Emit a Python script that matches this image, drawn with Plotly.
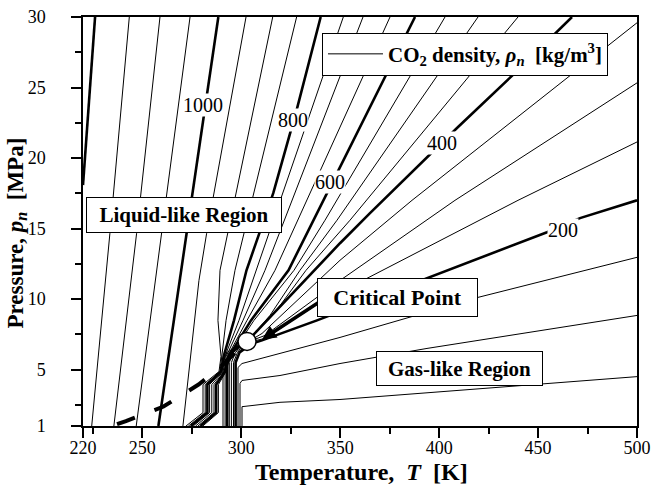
import plotly.graph_objects as go

FONT = "Liberation Serif, Times New Roman, serif"

# ---- traced CO2 density isolines: temperature T [K] vs pressure p [MPa] ----
T_1200 = [226.1, 220.0]
P_1200 = [30.0, 18.08]
T_1150 = [243.4, 233.6, 224.4]
P_1150 = [30.0, 14.67, 1.0]
T_1100 = [258.9, 247.1, 235.6]
P_1100 = [30.0, 14.67, 1.0]
T_1050 = [274.1, 259.8, 246.9]
P_1050 = [30.0, 14.67, 1.0]
T_1000 = [288.4, 272.4, 258.1]
P_1000 = [30.0, 14.67, 1.0]
T_950 = [302.4, 282.5, 278.6, 270.5]
P_950 = [30.0, 14.67, 11.32, 1.0]
T_900 = [315.88, 289.24, 288.2, 289.75, 288.74, 280.65, 280.65, 272.06]
P_900 = [30.0, 12.04, 8.49, 5.93, 4.86, 3.94, 1.95, 1.0]
T_850 = [327.96, 296.82, 292.3, 290.41, 289.24, 281.76, 281.76, 273.27]
P_850 = [30.0, 12.04, 8.49, 5.93, 4.86, 3.94, 1.95, 1.0]
T_800 = [340.13, 327.99, 316.16, 302.63, 296.32, 291.06, 289.75, 282.87, 282.87, 274.48]
P_800 = [30.0, 23.41, 17.51, 12.04, 8.49, 5.93, 4.86, 3.94, 1.95, 1.0]
T_750 = [351.56, 307.44, 298.84, 291.72, 290.25, 283.98, 283.98, 275.70]
P_750 = [30.0, 12.04, 8.49, 5.93, 4.86, 3.94, 1.95, 1.0]
T_700 = [361.51, 311.98, 300.87, 292.38, 290.76, 285.09, 285.09, 276.91]
P_700 = [30.0, 12.04, 8.49, 5.93, 4.86, 3.94, 1.95, 1.0]
T_650 = [375.16, 317.04, 302.89, 293.03, 291.26, 286.21, 286.21, 278.12]
P_650 = [30.0, 12.04, 8.49, 5.93, 4.86, 3.94, 1.95, 1.0]
T_600 = [387.80, 349.89, 336.40, 323.86, 304.91, 293.69, 291.77, 287.32, 287.32, 279.34]
P_600 = [30.0, 19.35, 15.59, 12.04, 8.49, 5.93, 4.86, 3.94, 1.95, 1.0]
T_550 = [402.96, 347.87, 342.31, 326.64, 306.42, 294.35, 292.28, 288.43, 288.43, 280.55]
P_550 = [30.0, 17.0, 15.59, 12.04, 8.49, 5.93, 4.86, 3.94, 1.95, 1.0]
T_500 = [419.64, 355.45, 348.37, 329.67, 314.51, 304.40, 292.78, 290.76, 290.76]
P_500 = [30.0, 17.0, 15.59, 12.04, 8.84, 7.21, 6.22, 5.50, 1.0]
T_450 = [439.85, 363.03, 354.94, 332.71, 317.04, 305.41, 293.84, 291.82, 291.82]
P_450 = [30.0, 17.0, 15.59, 12.04, 9.06, 7.35, 6.22, 5.50, 1.0]
T_400 = [467.15, 437.33, 409.02, 393.86, 365.05, 349.89, 329.67, 310.47, 304.40, 294.90, 292.88, 292.88]
P_400 = [30.0, 25.90, 22.13, 20.07, 16.09, 13.96, 10.97, 8.13, 7.21, 6.22, 5.50, 1.0]
T_350 = [500.0, 386.28, 349.89, 310.47, 305.41, 295.96, 293.94, 293.94]
P_350 = [29.59, 17.0, 12.75, 7.56, 7.14, 6.22, 5.50, 1.0]
T_300 = [500.0, 408.01, 349.89, 311.98, 305.41, 297.03, 295.00, 295.00]
P_300 = [25.33, 17.0, 11.32, 7.42, 7.07, 6.22, 5.50, 1.0]
T_250 = [500.0, 439.85, 363.54, 338.27, 311.98, 305.41, 298.09, 296.06, 296.06]
P_250 = [21.14, 17.0, 11.47, 9.62, 7.21, 7.0, 6.22, 5.50, 1.0]
T_200 = [500.0, 471.19, 454.51, 393.86, 338.27, 310.47, 305.41, 299.15, 297.13, 297.13]
P_200 = [17.0, 15.74, 14.74, 11.47, 8.49, 7.07, 6.85, 6.22, 5.50, 1.0]
T_150 = [500.0, 419.64, 349.89, 319.56, 300.36, 298.34, 298.34]
P_150 = [12.96, 10.12, 7.28, 6.14, 5.43, 5.15, 1.0]
T_100 = [500.0, 393.86, 349.89, 319.56, 300.36, 299.35, 299.35]
P_100 = [8.84, 6.50, 5.43, 4.58, 4.23, 4.02, 1.0]
T_50 = [500.0, 452.48, 349.89, 319.56, 300.36, 300.36]
P_50 = [4.50, 4.0, 2.88, 2.68, 2.37, 1.0]

isolines = [
    (1200, T_1200, P_1200), (1150, T_1150, P_1150), (1100, T_1100, P_1100),
    (1050, T_1050, P_1050), (1000, T_1000, P_1000), (950, T_950, P_950),
    (900, T_900, P_900), (850, T_850, P_850), (800, T_800, P_800),
    (750, T_750, P_750), (700, T_700, P_700), (650, T_650, P_650),
    (600, T_600, P_600), (550, T_550, P_550), (500, T_500, P_500),
    (450, T_450, P_450), (400, T_400, P_400), (350, T_350, P_350),
    (300, T_300, P_300), (250, T_250, P_250), (200, T_200, P_200),
    (150, T_150, P_150), (100, T_100, P_100), (50, T_50, P_50),
]
bold_levels = [200, 400, 600, 800, 1000, 1200]

# isoline labels (level, T, p)
label_levels = ["1000", "800", "600", "400", "200"]
label_T = [280.6, 326.3, 344.8, 401.3, 462.7]
label_P = [23.77, 22.70, 18.29, 21.05, 14.93]

# saturation curve (dashed) and critical point
sat_T = [237.2, 241.7, 260.7, 278.4, 289.2, 296.8, 302.9]
sat_P = [1.13, 1.35, 2.38, 3.94, 5.15, 6.22, 7.0]
crit_T = [302.9]
crit_P = [7.0]

x_ticks = [220, 250, 300, 350, 400, 450, 500]
x_minor = [225, 275, 325, 375, 425, 475]
y_ticks = [1, 5, 10, 15, 20, 25, 30]
y_minor = [2.5, 7.5, 12.5, 17.5, 22.5, 27.5]

fig = go.Figure()

legend_done = False
for lvl, T, P in isolines:
    bold = lvl in bold_levels
    show = (not bold) and (not legend_done)
    if show:
        legend_done = True
    fig.add_trace(go.Scatter(
        x=T, y=P, mode="lines",
        line=dict(color="black", width=2.6 if bold else 1.0),
        name="<b>CO<sub>2</sub> density, <i>ρ<sub>n</sub></i>\u00a0\u00a0[kg/m<sup>3</sup>]</b>",
        showlegend=show, hoverinfo="skip",
    ))

fig.add_trace(go.Scatter(
    x=sat_T, y=sat_P, mode="lines",
    line=dict(color="black", width=4, dash="19px,21px"),
    showlegend=False, hoverinfo="skip",
))
fig.add_trace(go.Scatter(
    x=crit_T, y=crit_P, mode="markers",
    marker=dict(symbol="circle", size=18, color="white",
                line=dict(color="black", width=1.5)),
    showlegend=False, hoverinfo="skip",
))

annotations = []
for txt, t, p in zip(label_levels, label_T, label_P):
    annotations.append(dict(
        x=t, y=p, xref="x", yref="y", text=txt, showarrow=False,
        font=dict(family=FONT, size=20, color="black"),
        bgcolor="white", borderpad=0,
    ))

# arrow pointing to the critical point
annotations.append(dict(
    x=310.47, y=7.14, xref="x", yref="y",
    ax=342.31, ay=10.05, axref="x", ayref="y",
    text="", showarrow=True, arrowhead=2, arrowsize=0.8,
    arrowwidth=3.5, arrowcolor="black", standoff=0,
))

box_style = dict(xref="x", yref="y", showarrow=False, bgcolor="white",
                 bordercolor="black", borderwidth=1, borderpad=1)
annotations.append(dict(x=271.0, y=15.98, text="<b>Liquid-like Region</b>",
                        width=192, height=32,
                        font=dict(family=FONT, size=21, color="black"), **box_style))
annotations.append(dict(x=378.9, y=10.09, text="<b>Critical Point</b>",
                        width=157, height=35,
                        font=dict(family=FONT, size=22, color="black"), **box_style))
annotations.append(dict(x=410.4, y=5.11, text="<b>Gas-like Region</b>",
                        width=163, height=31,
                        font=dict(family=FONT, size=21, color="black"), **box_style))

# axis titles
annotations.append(dict(
    x=0.502, y=-0.112, xref="paper", yref="paper", xanchor="center", yanchor="middle",
    text="<b>Temperature,\u00a0\u00a0<i>T</i>\u00a0\u00a0[K]</b>", showarrow=False,
    font=dict(family=FONT, size=24, color="black"),
))
annotations.append(dict(
    x=-0.12, y=0.472, xref="paper", yref="paper", xanchor="center", yanchor="middle",
    text="<b>Pressure,\u00a0<i>p<sub>n</sub></i>\u00a0\u00a0[MPa]</b>", showarrow=False,
    textangle=-90, font=dict(family=FONT, size=23, color="black"),
))

fig.update_layout(
    template="none",
    width=653, height=491,
    margin=dict(l=83, r=16, t=17, b=65, pad=0, autoexpand=False),
    paper_bgcolor="white", plot_bgcolor="white",
    font=dict(family=FONT, size=18, color="black"),
    showlegend=True,
    legend=dict(x=0.4314, y=0.9616, xanchor="left", yanchor="top",
                bgcolor="white", bordercolor="black", borderwidth=1,
                itemwidth=55,
                font=dict(family=FONT, size=21, color="black")),
    annotations=annotations,
)
axis_common = dict(
    automargin=False,
    showline=True, linewidth=1.5, linecolor="black", mirror=True,
    showgrid=False, zeroline=False, ticks="outside", ticklen=10, tickwidth=1.5,
    tickcolor="black", tickfont=dict(family=FONT, size=18, color="black"),
)
fig.update_xaxes(range=[220, 500], tickmode="array", tickvals=x_ticks,
                 ticklabelstandoff=-5,
                 minor=dict(tickmode="array", tickvals=x_minor, ticks="outside",
                            ticklen=6, tickwidth=1.5, tickcolor="black"),
                 **axis_common)
fig.update_yaxes(range=[1, 30], tickmode="array", tickvals=y_ticks,
                 ticklabelstandoff=22,
                 minor=dict(tickmode="array", tickvals=y_minor, ticks="outside",
                            ticklen=6, tickwidth=1.5, tickcolor="black"),
                 **axis_common)

fig.write_html("out.html")
